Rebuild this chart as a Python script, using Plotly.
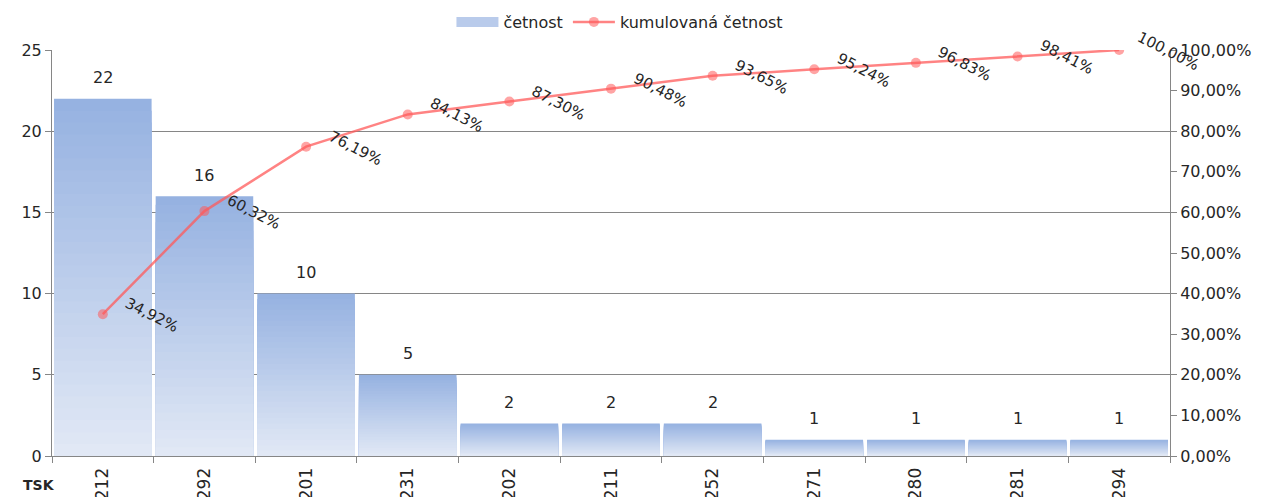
import plotly.graph_objects as go

categories = ["212", "292", "201", "231", "202", "211", "252", "271", "280", "281", "294"]
counts = [22, 16, 10, 5, 2, 2, 2, 1, 1, 1, 1]
cum_pct = [0.3492, 0.6032, 0.7619, 0.8413, 0.8730, 0.9048, 0.9365, 0.9524, 0.9683, 0.9841, 1.0]

FONT = "DejaVu Sans"
TXT = "#262626"
GRID = "#868686"
FS = 16

top_rgb = (150, 178, 225)
bot_rgb = (225, 232, 245)
N = 30

fig = go.Figure()

# gradient bars: overlaid slices, darkest (full height) drawn first
for k in range(N, 0, -1):
    t = (k - 1) / (N - 1)
    c = tuple(round(bot_rgb[i] + (top_rgb[i] - bot_rgb[i]) * t) for i in range(3))
    fig.add_trace(go.Bar(
        x=categories,
        y=[v * k / N for v in counts],
        marker=dict(color="rgb(%d,%d,%d)" % c, line=dict(width=0)),
        name="četnost",
        showlegend=False,
        legendgroup="bars",
        hoverinfo="skip",
    ))

# legend-only entry for the bars (wide swatch)
fig.add_trace(go.Scatter(
    x=[None], y=[None], mode="lines", name="četnost", legendgroup="bars",
    line=dict(color="rgb(185,203,235)", width=10), hoverinfo="skip",
))

fig.add_trace(go.Scatter(
    x=categories,
    y=cum_pct,
    yaxis="y2",
    mode="lines+markers",
    name="kumulovaná četnost",
    line=dict(color="rgba(255,90,90,0.75)", width=2.5),
    marker=dict(color="rgba(255,90,90,0.55)", size=10),
))

annotations = []
for i, v in enumerate(counts):
    annotations.append(dict(
        x=i, y=v, xref="x", yref="y", text=str(v), showarrow=False,
        yshift=21, font=dict(family=FONT, size=FS, color=TXT),
    ))
for i, p in enumerate(cum_pct):
    annotations.append(dict(
        x=i, y=p, xref="x", yref="y2",
        text=("%.2f%%" % (p * 100)).replace(".", ","),
        showarrow=False, textangle=27, xshift=49, yshift=-1,
        font=dict(family=FONT, size=FS - 1, color=TXT),
    ))
annotations.append(dict(
    x=-0.0116, y=-0.0714, xref="paper", yref="paper", text="<b>TSK</b>",
    showarrow=False, xanchor="center", yanchor="middle",
    font=dict(family=FONT, size=14, color=TXT),
))

fig.update_layout(
    width=1253, height=489,
    margin=dict(l=44, r=91, t=42, b=41, autoexpand=False),
    paper_bgcolor="white", plot_bgcolor="white",
    barmode="overlay", bargap=0.04,
    separators=", ",
    font=dict(family=FONT, size=FS, color=TXT),
    legend=dict(orientation="h", x=0.508, xanchor="center", y=1.069, yanchor="middle",
                itemwidth=42,
                font=dict(family=FONT, size=FS, color=TXT), bgcolor="rgba(0,0,0,0)"),
    xaxis=dict(type="category", range=[-0.5, len(categories) - 0.5],
               showline=True, linecolor=GRID, linewidth=1,
               ticks="outside", tickson="boundaries", ticklen=6, tickcolor=GRID,
               tickangle=-90, showgrid=False, zeroline=False, ticklabelstandoff=4,
               tickfont=dict(family=FONT, size=FS + 1, color=TXT)),
    yaxis=dict(range=[0, 25], dtick=5, showgrid=True, gridcolor=GRID, gridwidth=1,
               showline=True, linecolor=GRID, ticks="outside", ticklen=6, tickcolor=GRID,
               zeroline=False, tickfont=dict(family=FONT, size=FS, color=TXT)),
    yaxis2=dict(range=[0, 1], dtick=0.1, tickformat=".2%", overlaying="y", side="right",
                showgrid=False, showline=True, linecolor=GRID, ticks="outside", ticklen=6,
                tickcolor=GRID, zeroline=False, tickfont=dict(family=FONT, size=FS, color=TXT)),
    annotations=annotations,
)

fig.write_html("out.html")
